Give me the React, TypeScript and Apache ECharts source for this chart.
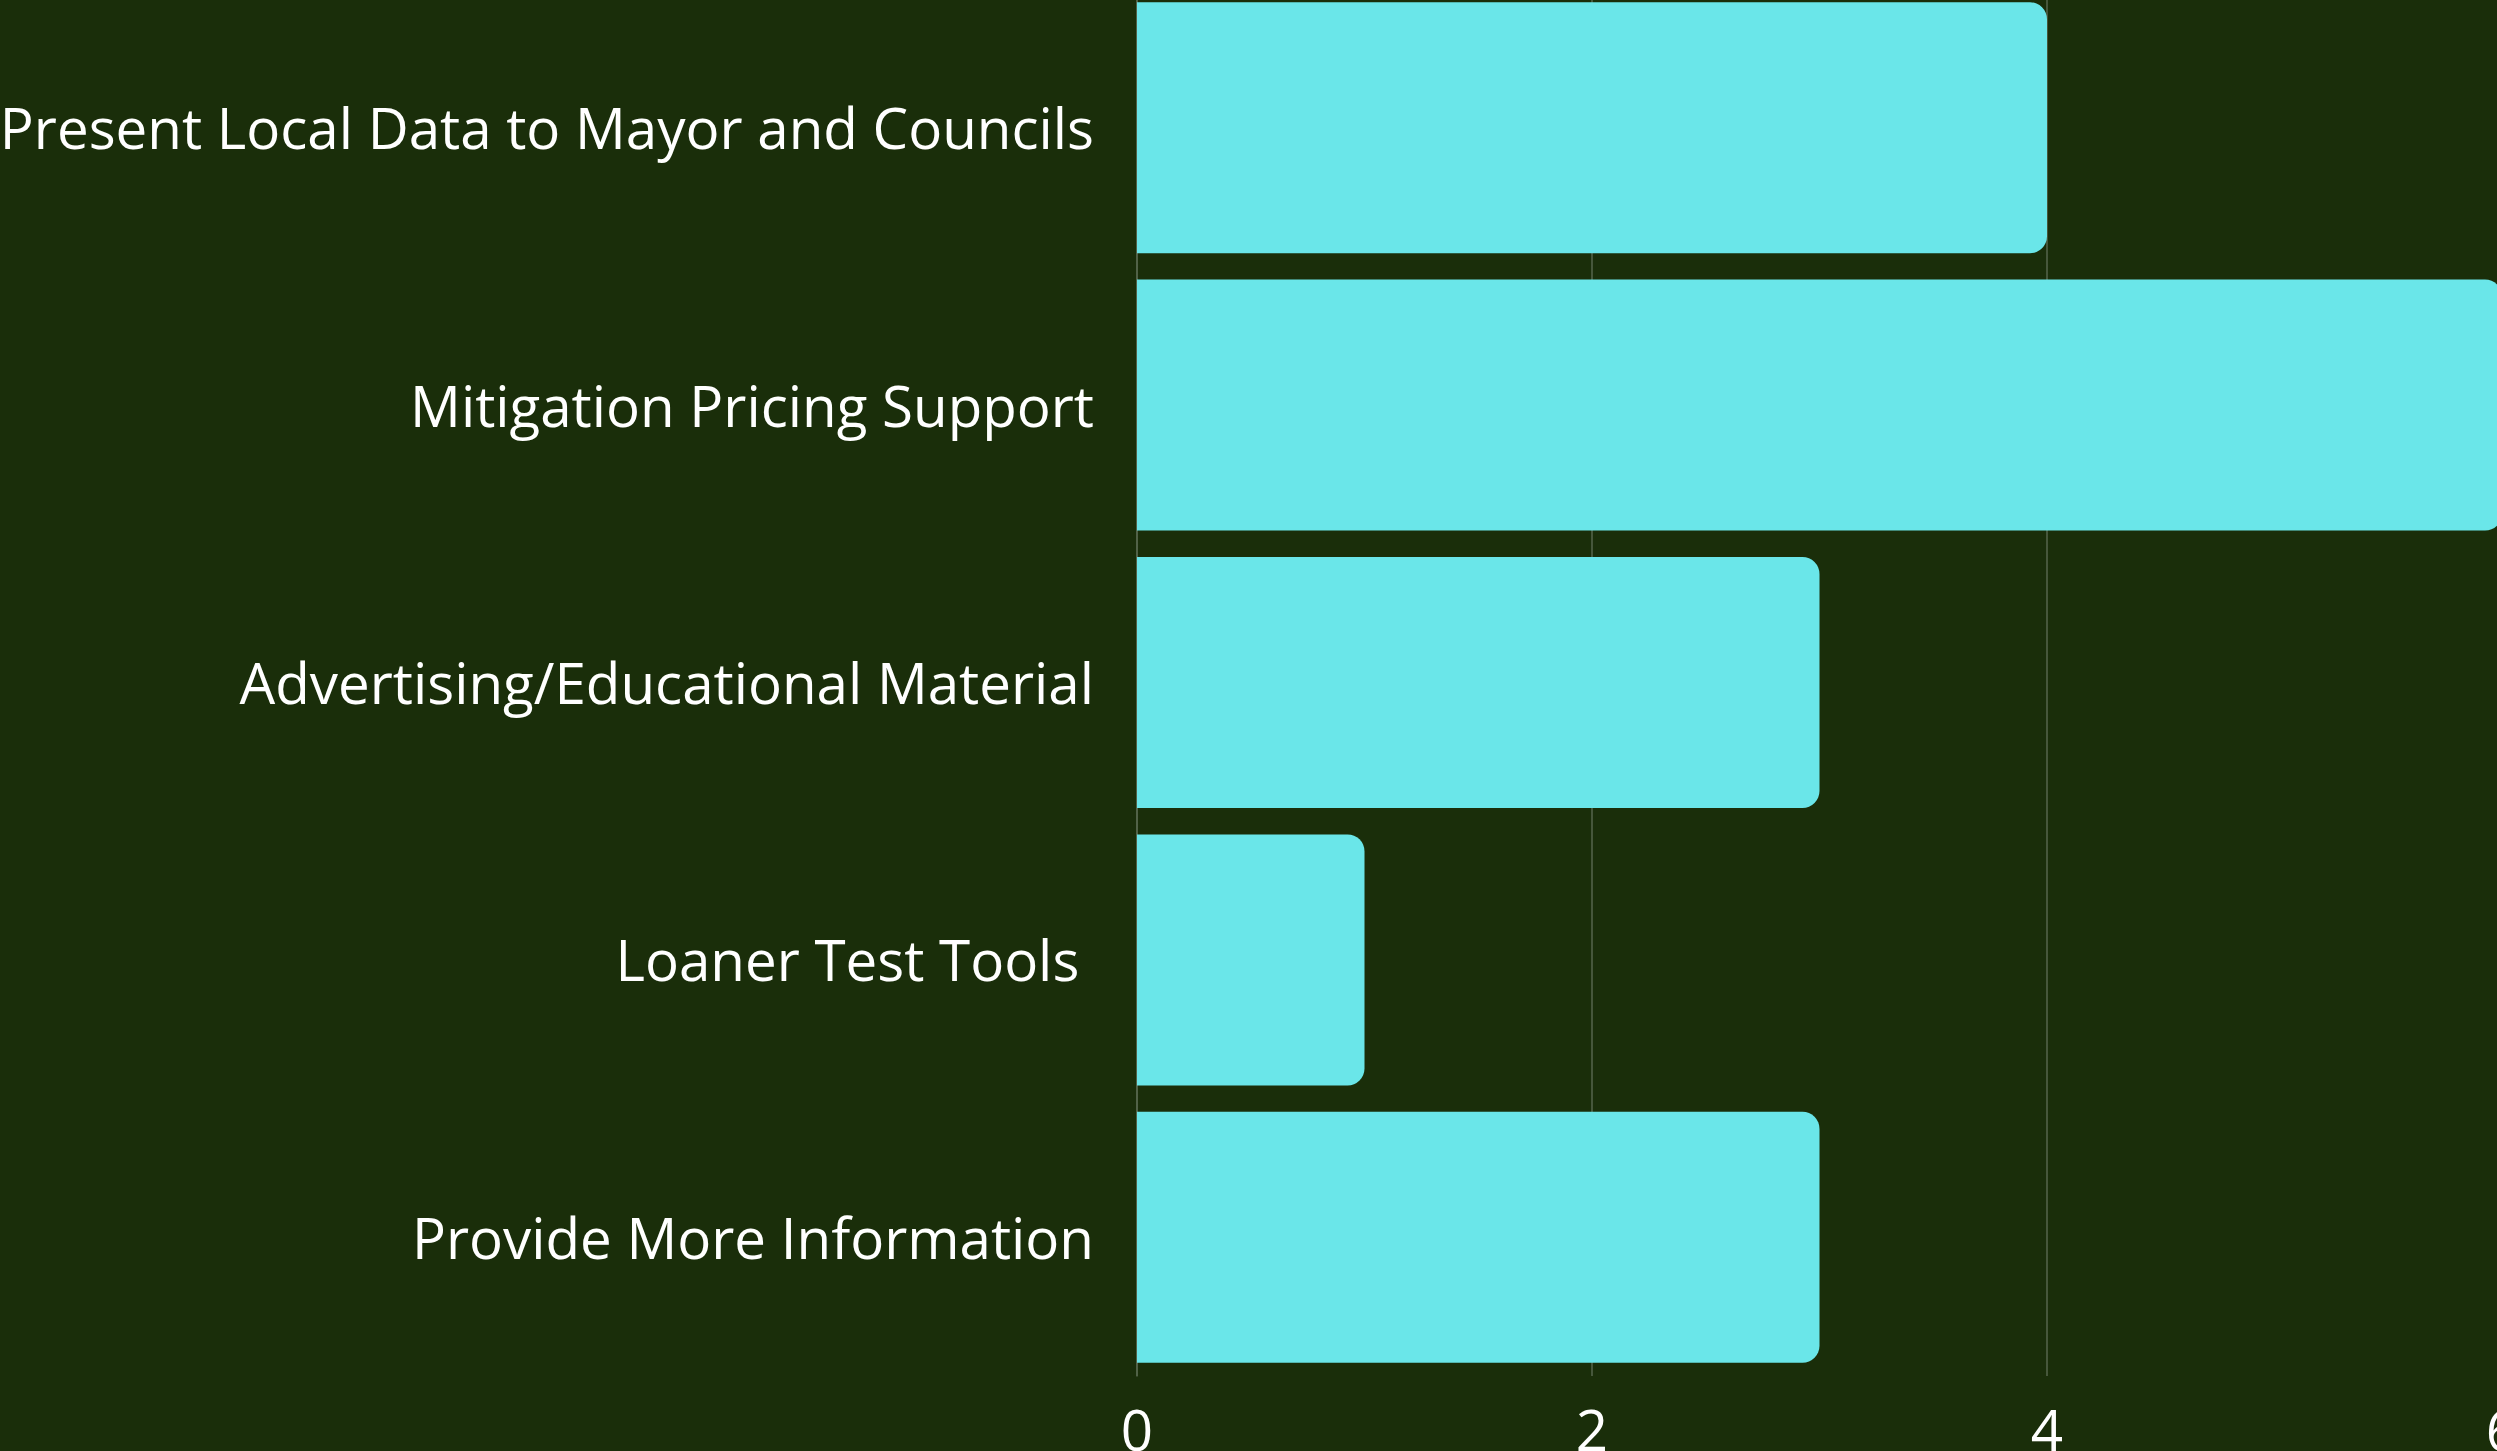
import React, { useEffect, useRef } from "react";
import * as echarts from "echarts";

const categories = [
  "Present Local Data to Mayor and Councils",
  "Mitigation Pricing Support",
  "Advertising/Educational Material",
  "Loaner Test Tools ",
  "Provide More Information",
];
const values = [4, 6, 3, 1, 3];
const xTicks = { min: 0, max: 6, interval: 2 };

export default function App() {
  const ref = useRef<HTMLDivElement>(null);
  useEffect(() => {
    if (!ref.current) return;
    const chart = echarts.init(ref.current, undefined, { renderer: "svg" });
    chart.setOption({
      animation: false,
      backgroundColor: "#1a2e0a",
      grid: {
        left: 1137,
        top: -11,
        width: 1365,
        height: 1387,
        containLabel: false,
        outerBoundsMode: "none",
      },
      xAxis: {
        type: "value",
        min: xTicks.min,
        max: xTicks.max,
        interval: xTicks.interval,
        axisLine: { show: false },
        axisTick: { show: false },
        splitLine: { show: true, lineStyle: { color: "#56664c", width: 1.5 } },
        axisLabel: {
          color: "#ffffff",
          fontFamily: "Open Sans",
          fontSize: 56.5,
          margin: 25,
          showMaxLabel: true,
        },
      },
      yAxis: {
        type: "category",
        data: categories,
        inverse: true,
        axisLine: { show: true, lineStyle: { color: "#56664c", width: 1.5 } },
        axisTick: { show: false },
        axisLabel: {
          color: "#ffffff",
          fontFamily: "Open Sans",
          fontSize: 56.5,
          margin: 43,
          padding: [0, 0, 2, 0],
        },
      },
      series: [
        {
          type: "bar",
          data: values,
          barCategoryGap: "9.5%",
          itemStyle: { color: "#6ae6e9", borderRadius: [0, 17, 17, 0] },
        },
      ],
    });
    return () => chart.dispose();
  }, []);
  return (
    <div
      ref={ref}
      style={{ position: "fixed", left: 0, top: 0, width: 2497, height: 1451 }}
    />
  );
}
